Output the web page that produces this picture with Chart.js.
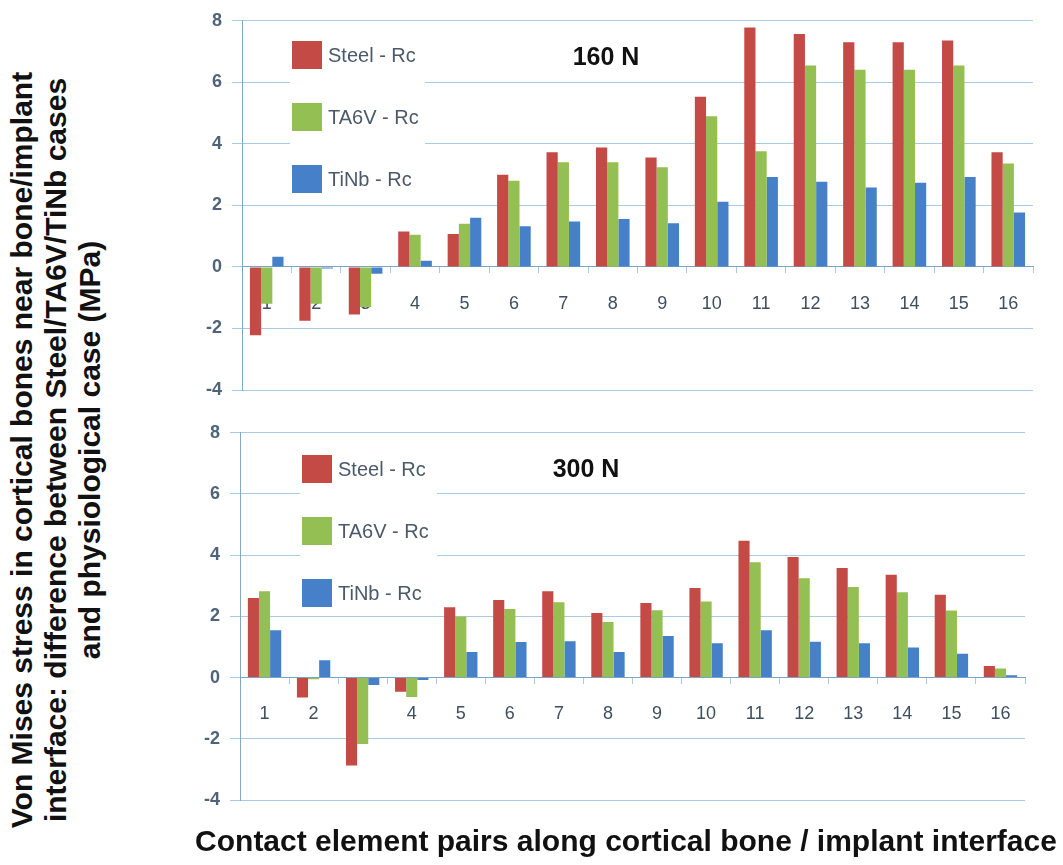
<!DOCTYPE html>
<html>
<head>
<meta charset="utf-8">
<script src="https://cdn.jsdelivr.net/npm/chart.js@4.4.1/dist/chart.umd.min.js"></script>
<style>
  body { margin: 0; background: #fff; width: 1063px; height: 865px; overflow: hidden; position: relative; }
  .panel { position: absolute; left: 180px; width: 860px; height: 415px; }
  #ytitle {
    position: absolute; left: -338px; top: 393px; width: 800px; height: 114px;
    transform: rotate(-90deg); text-align: center; line-height: 38px;
    font: bold 30px "Liberation Sans", Arial, sans-serif; color: #111;
  }
  #xtitle {
    position: absolute; left: 180px; top: 824px; width: 892px; text-align: center;
    font: bold 30px "Liberation Sans", Arial, sans-serif; color: #111; white-space: nowrap;
  }
</style>
</head>
<body>
<div id="ytitle">Von Mises stress in cortical bones near bone/implant<br>interface: difference between Steel/TA6V/TiNb cases<br>and physiological case (MPa)</div>
<div class="panel" style="top:0"><canvas id="load160"></canvas></div>
<div class="panel" style="top:412px"><canvas id="load300"></canvas></div>
<div id="xtitle">Contact element pairs along cortical bone / implant interface</div>

<script>
"use strict";

const pairs = ['1','2','3','4','5','6','7','8','9','10','11','12','13','14','15','16'];
const seriesNames = ['Steel - Rc', 'TA6V - Rc', 'TiNb - Rc'];
const yTicks = [-4, -2, 0, 2, 4, 6, 8];

// 160 N
const steel160 = [-2.22, -1.75, -1.55, 1.15, 1.07, 3.0, 3.73, 3.88, 3.56, 5.53, 7.78, 7.57, 7.3, 7.3, 7.36, 3.73];
const ta6v160  = [-1.2, -1.2, -1.3, 1.05, 1.4, 2.8, 3.4, 3.4, 3.24, 4.9, 3.76, 6.55, 6.41, 6.41, 6.55, 3.36];
const tinb160  = [0.33, -0.05, -0.22, 0.2, 1.6, 1.32, 1.48, 1.56, 1.42, 2.12, 2.92, 2.77, 2.58, 2.74, 2.92, 1.77];

// 300 N
const steel300 = [2.6, -0.65, -2.87, -0.46, 2.3, 2.54, 2.82, 2.11, 2.44, 2.93, 4.47, 3.94, 3.58, 3.36, 2.71, 0.38];
const ta6v300  = [2.82, -0.05, -2.17, -0.63, 2.0, 2.24, 2.46, 1.82, 2.2, 2.49, 3.77, 3.25, 2.96, 2.79, 2.19, 0.3];
const tinb300  = [1.55, 0.57, -0.24, -0.08, 0.84, 1.16, 1.19, 0.84, 1.36, 1.12, 1.55, 1.17, 1.12, 0.98, 0.78, 0.08];

const colors = ['#c44a46', '#94bf52', '#4580c8'];
const gridColor = 'rgba(140,185,220,0.75)';

// legend + load label drawn inside the plot, like the Excel original
const insideLegend = {
  id: 'insideLegend',
  afterDraw(chart, args, opts) {
    const ctx = chart.ctx;
    ctx.save();
    ctx.fillStyle = '#fff';
    ctx.fillRect(opts.bg[0], opts.bg[1], opts.bg[2], opts.bg[3]);
    chart.data.datasets.forEach((ds, i) => {
      const cy = opts.y + i * opts.gap;
      ctx.fillStyle = ds.backgroundColor;
      ctx.fillRect(opts.x, cy - 14, 30, 28);
      ctx.fillStyle = '#4b5a6a';
      ctx.font = '20px "Liberation Sans", Arial, sans-serif';
      ctx.textBaseline = 'middle';
      ctx.textAlign = 'left';
      ctx.fillText(ds.label, opts.x + 36, cy + 1);
    });
    ctx.fillStyle = '#111';
    ctx.font = 'bold 25px "Liberation Sans", Arial, sans-serif';
    ctx.textAlign = 'center';
    ctx.fillText(opts.title, opts.tx, opts.ty);
    ctx.restore();
  }
};

function panelConfig(values, legendOpts, yWidth, padding) {
  return {
    type: 'bar',
    data: {
      labels: pairs,
      datasets: values.map((v, i) => ({
        label: seriesNames[i],
        data: v,
        backgroundColor: colors[i],
        categoryPercentage: 0.68,
        barPercentage: 1.0,
      })),
    },
    options: {
      responsive: true,
      maintainAspectRatio: false,
      animation: false,
      layout: { padding: padding },
      plugins: {
        legend: { display: false },
        tooltip: { enabled: false },
        insideLegend: legendOpts,
      },
      scales: {
        x: {
          position: { y: 0 },
          grid: { drawOnChartArea: false, color: gridColor, tickLength: 6 },
          border: { color: 'rgba(120,160,190,0.9)' },
          ticks: { color: '#3e4f60', padding: 20, font: { size: 18, family: '"Liberation Sans", Arial' } },
        },
        y: {
          min: yTicks[0],
          max: yTicks[yTicks.length - 1],
          afterFit(scale) { scale.width = yWidth; },
          afterBuildTicks(scale) { scale.ticks = yTicks.map(v => ({ value: v })); },
          grid: { color: gridColor, tickLength: 10 },
          border: { color: 'rgba(120,160,190,0.9)' },
          ticks: { color: '#4f6478', padding: 10, font: { size: 18, weight: 'bold', family: '"Liberation Sans", Arial' } },
        },
      },
    },
    plugins: [insideLegend],
  };
}

new Chart(document.getElementById('load160'), panelConfig(
  [steel160, ta6v160, tinb160],
  { x: 112, y: 55, gap: 62, bg: [110, 30, 135, 170], title: '160 N', tx: 426, ty: 58 },
  62, { top: 16, bottom: 25, right: 7, left: 0 }
));

new Chart(document.getElementById('load300'), panelConfig(
  [steel300, ta6v300, tinb300],
  { x: 122, y: 57, gap: 62, bg: [120, 28, 137, 170], title: '300 N', tx: 406, ty: 58 },
  60, { top: 12, bottom: 27, right: 15, left: 0 }
));
</script>
</body>
</html>
